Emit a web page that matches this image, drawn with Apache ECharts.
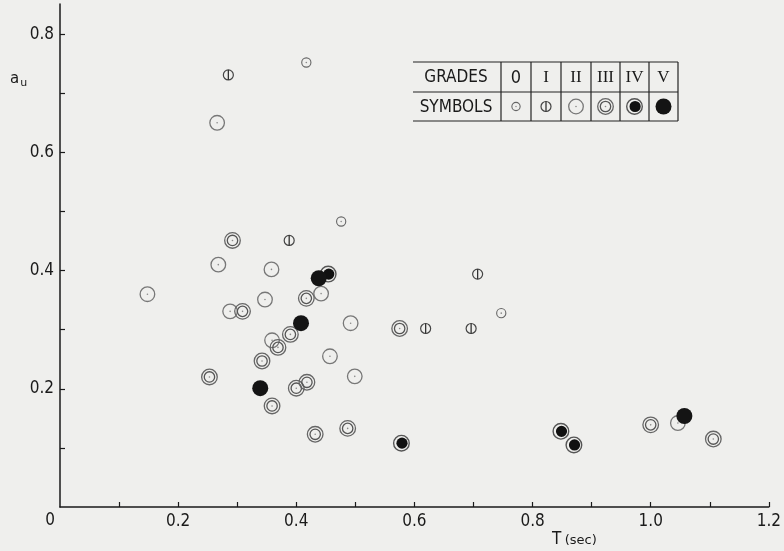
<!DOCTYPE html>
<html>
<head>
<meta charset="utf-8">
<script src="https://cdn.jsdelivr.net/npm/echarts@6/dist/echarts.min.js"></script>
<style>
html,body{margin:0;padding:0;background:#efefed;}
#main{width:784px;height:551px;}
</style>
</head>
<body>
<div id="main"></div>
<script>
// grades of damage and their symbols
var gradeNames = ['0', 'I', 'II', 'III', 'IV', 'V'];
// points [T (sec), a_u] per grade
var grade0 = [[0.417,0.752],[0.476,0.483],[0.747,0.328]];
var grade1 = [[0.285,0.731],[0.388,0.451],[0.619,0.302],[0.696,0.302],[0.707,0.394]];
var grade2 = [[0.148,0.360],[0.266,0.650],[0.268,0.410],[0.358,0.402],[0.442,0.361],[0.347,0.351],
              [0.288,0.331],[0.492,0.311],[0.359,0.282],[0.457,0.255],[0.499,0.221],[1.046,0.142]];
var grade3 = [[0.292,0.451],[0.417,0.353],[0.309,0.331],[0.575,0.302],[0.369,0.270],[0.390,0.292],
              [0.342,0.247],[0.253,0.220],[0.400,0.201],[0.418,0.211],[0.359,0.171],[0.432,0.123],
              [0.487,0.133],[1.000,0.139],[1.106,0.115]];
var grade4 = [[0.454,0.394],[0.578,0.108],[0.848,0.128],[0.870,0.105]];
var grade5 = [[0.438,0.387],[0.408,0.311],[0.339,0.201],[1.057,0.154]];
var gradeData = [grade0, grade1, grade2, grade3, grade4, grade5];

var xTicks = [0.1,0.2,0.3,0.4,0.5,0.6,0.7,0.8,0.9,1.0,1.1,1.2];
var xLabels = [0.2,0.4,0.6,0.8,1.0,1.2];
var yTicks = [0.1,0.2,0.3,0.4,0.5,0.6,0.7,0.8];
var yLabels = [0.2,0.4,0.6,0.8];

var ink = '#1a1a1a';

//符号
function symbolShapes(g, cx, cy, k){
	k = k || 1;
	var out = [];
	function ring(r, c, lw){
		out.push({type:'circle', shape:{cx:cx, cy:cy, r:r*k}, style:{fill:null, stroke:c, lineWidth:lw}});
	}
	function disc(r, c, dx){
		out.push({type:'circle', shape:{cx:cx+(dx||0)*k, cy:cy, r:r*k}, style:{fill:c, stroke:null}});
	}
	if(g==0){
		ring(4.6,'#666',1.1); disc(0.8,'#888');
	}else if(g==1){
		ring(5,'#444',1.2);
		out.push({type:'line', shape:{x1:cx, y1:cy-5*k, x2:cx, y2:cy+5*k}, style:{stroke:'#333', lineWidth:1.3}});
	}else if(g==2){
		ring(7.3,'#777',1.3); disc(0.8,'#888');
	}else if(g==3){
		ring(7.8,'#666',1.3); ring(5.2,'#555',1.3); disc(0.8,'#888');
	}else if(g==4){
		ring(7.8,'#555',1.4); disc(5.6,'#111',0.6);
	}else{
		disc(8,'#141414');
	}
	return out;
}

function makeSeries(g){
	return {
		name: gradeNames[g],
		type: 'custom',
		coordinateSystem: 'cartesian2d',
		data: gradeData[g],
		encode: {x:0, y:1},
		renderItem: function(params, api){
			var p = api.coord([api.value(0), api.value(1)]);
			return {type:'group', children: symbolShapes(g, p[0], p[1])};
		}
	};
}

// legend table
var tabL = 413, tabR = 678, tabT = 62, tabM = 92, tabB = 121;
var colX = [501, 531, 561, 591, 620, 649, 678];
var graphics = [];
[tabT, tabM, tabB].forEach(function(y){
	graphics.push({type:'line', shape:{x1:tabL, y1:y, x2:tabR, y2:y}, style:{stroke:'#222', lineWidth:1.2}});
});
colX.forEach(function(x){
	graphics.push({type:'line', shape:{x1:x, y1:tabT, x2:x, y2:tabB}, style:{stroke:'#222', lineWidth:1.2}});
});
graphics.push({type:'text', x:456, y:(tabT+tabM)/2+1, style:{text:'GRADES', fill:ink, font:'17px "DejaVu Sans Condensed"', align:'center', verticalAlign:'middle'}});
graphics.push({type:'text', x:456, y:(tabM+tabB)/2+1, style:{text:'SYMBOLS', fill:ink, font:'17px "DejaVu Sans Condensed"', align:'center', verticalAlign:'middle'}});
for(var i=0;i<6;i++){
	var cx = (colX[i]+colX[i+1])/2;
	graphics.push({type:'text', x:cx, y:(tabT+tabM)/2+1, style:{text:gradeNames[i], fill:ink,
		font: i==0 ? '18px "DejaVu Sans Condensed"' : '17px "Liberation Serif"', align:'center', verticalAlign:'middle'}});
	graphics.push({type:'group', children:symbolShapes(i, cx, (tabM+tabB)/2, i==0 ? 0.9 : 1)});
}
// axis names and origin
graphics.push({type:'text', x:10, y:70, style:{text:'{a|a}{u|u}', rich:{a:{fontSize:15, fill:ink, fontFamily:'DejaVu Sans'}, u:{fontSize:11, fill:ink, fontFamily:'DejaVu Sans', padding:[8,0,0,1]}}}});
graphics.push({type:'text', x:552, y:531, style:{text:'{t|T} {s|(sec)}', rich:{t:{fontSize:17, fill:ink, fontFamily:'DejaVu Sans Condensed'}, s:{fontSize:13, fill:ink, fontFamily:'DejaVu Sans', padding:[3,0,0,0]}}}});
graphics.push({type:'text', x:50, y:521, style:{text:'0', fill:ink, font:'17px "DejaVu Sans Condensed"', align:'center', verticalAlign:'middle'}});

var option = {
	backgroundColor: '#efefed',
	animation: false,
	grid: {left:60, right:13, top:4, bottom:44},
	xAxis: {
		type: 'value', min: 0, max: 1.2,
		splitLine: {show:false},
		axisLine: {lineStyle:{color:ink, width:1.5}},
		axisTick: {inside:true, length:5, customValues:xTicks, lineStyle:{color:ink, width:1.2}},
		axisLabel: {customValues:xLabels, margin:6, color:ink, fontSize:17, fontFamily:'DejaVu Sans Condensed',
			formatter:function(v){ return v.toFixed(1); }}
	},
	yAxis: {
		type: 'value', min: 0, max: 0.851,
		splitLine: {show:false},
		axisLine: {lineStyle:{color:ink, width:1.5}},
		axisTick: {inside:true, length:5, customValues:yTicks, lineStyle:{color:ink, width:1.2}},
		axisLabel: {customValues:yLabels, margin:6, color:ink, fontSize:17, fontFamily:'DejaVu Sans Condensed',
			formatter:function(v){ return v.toFixed(1); }}
	},
	graphic: graphics,
	series: [makeSeries(0), makeSeries(1), makeSeries(2), makeSeries(3), makeSeries(4), makeSeries(5)]
};
echarts.init(document.getElementById('main')).setOption(option);
</script>
</body>
</html>
